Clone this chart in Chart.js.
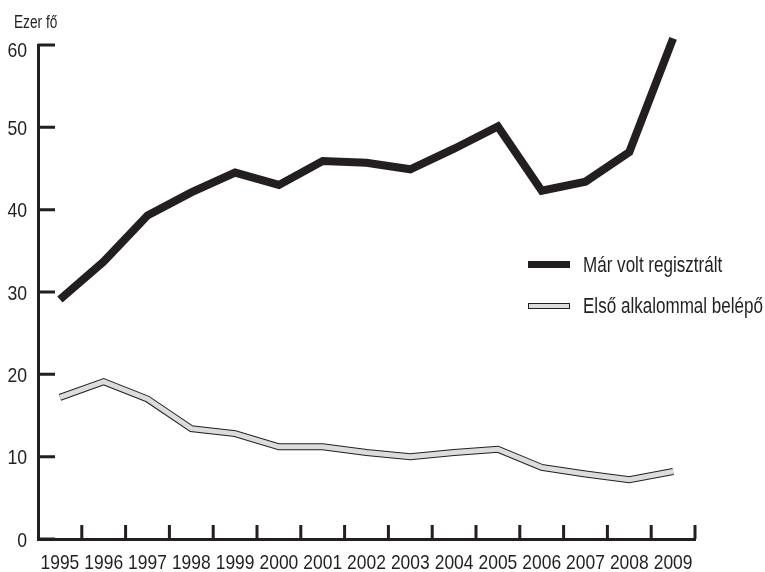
<!DOCTYPE html>
<html>
<head>
<meta charset="utf-8">
<script src="https://cdn.jsdelivr.net/npm/chart.js@4/dist/chart.umd.min.js"></script>
<style>
  body { margin: 0; background: #fff; }
  #wrap { width: 765px; height: 572px; position: relative; }
</style>
</head>
<body>
<div id="wrap"><canvas id="chart"></canvas></div>
<script>
/* ── Data ── */
const years = ['1995', '1996', '1997', '1998', '1999', '2000', '2001', '2002', '2003', '2004', '2005', '2006', '2007', '2008', '2009'];
const marVolt = [29.1, 33.7, 39.3, 42.1, 44.5, 43.0, 45.9, 45.7, 44.9, 47.4, 50.1, 42.3, 43.4, 47.0, 60.8];
const elsoAlk = [17.2, 19.1, 17.0, 13.4, 12.8, 11.2, 11.2, 10.5, 10.0, 10.5, 10.9, 8.7, 7.9, 7.2, 8.2];
const yTicks = [0, 10, 20, 30, 40, 50, 60];
const seriesNames = ['Már volt regisztrált', 'Első alkalommal belépő'];
const unitLabel = 'Ezer fő';

const ink = '#231f20';
const pale = '#dcdcdc';
const FONT = '"Liberation Sans", Arial, sans-serif';

// no narrow font installed, so squeeze Liberation Sans horizontally
function narrowText(ctx, text, x, y, size, squeeze, align) {
  ctx.save();
  ctx.translate(x, y);
  ctx.scale(squeeze, 1);
  ctx.font = size + 'px ' + FONT;
  ctx.textAlign = align;
  ctx.textBaseline = 'alphabetic';
  ctx.fillText(text, 0, 0);
  ctx.restore();
}

/* ── Inward tick marks, labels, unit label and legend ── */
const decorations = {
  id: 'decorations',
  afterDraw(chart) {
    const { ctx, chartArea, scales: { x, y } } = chart;
    ctx.save();
    ctx.strokeStyle = ink;
    ctx.fillStyle = ink;
    ctx.lineWidth = 3;
    ctx.beginPath();
    y.ticks.forEach(t => {
      const py = y.getPixelForValue(t.value);
      ctx.moveTo(chartArea.left, py);
      ctx.lineTo(chartArea.left + 17, py);
    });
    for (let i = 1; i <= years.length; i++) {
      const px = x.getPixelForValue(i - 0.5);
      ctx.moveTo(px, chartArea.bottom);
      ctx.lineTo(px, chartArea.bottom - 14);
    }
    ctx.stroke();

    // tick labels
    y.ticks.forEach(t => {
      const py = Math.max(y.getPixelForValue(t.value), 49);
      narrowText(ctx, String(t.value), chartArea.left - 11, py + 7.5, 21, 0.84, 'right');
    });
    years.forEach((label, i) => {
      narrowText(ctx, label, x.getPixelForValue(i), 569, 21, 0.83, 'center');
    });

    narrowText(ctx, unitLabel, 14, 28, 18, 0.76, 'left');

    // legend
    ctx.fillRect(528, 261, 42, 7);
    ctx.fillStyle = pale;
    ctx.fillRect(528.5, 303.5, 41, 5);
    ctx.lineWidth = 1;
    ctx.strokeRect(528.5, 303.5, 41, 5);
    ctx.fillStyle = ink;
    narrowText(ctx, seriesNames[0], 583, 271.5, 22, 0.775, 'left');
    narrowText(ctx, seriesNames[1], 583, 313, 22, 0.775, 'left');
    ctx.restore();
  }
};

const ctx = document.getElementById('chart').getContext('2d');
new Chart(ctx, {
  type: 'line',
  data: {
    labels: years,
    datasets: [
      { label: seriesNames[0], data: marVolt, borderColor: ink, borderWidth: 8, order: 1 },
      { label: seriesNames[1], data: elsoAlk, borderColor: pale, borderWidth: 5, order: 2 },
      { label: 'outline', data: elsoAlk, borderColor: ink, borderWidth: 7, order: 3 }
    ]
  },
  options: {
    responsive: true,
    maintainAspectRatio: false,
    animation: false,
    layout: { padding: { top: 45, right: 70, left: 0, bottom: 0 } },
    elements: {
      line: { tension: 0, fill: false, borderJoinStyle: 'miter', borderCapStyle: 'butt' },
      point: { radius: 0, hoverRadius: 0 }
    },
    datasets: { line: { clip: false } },
    scales: {
      x: {
        offset: true,
        grid: { display: false, drawTicks: false },
        border: { display: true, color: ink, width: 3 },
        ticks: { display: false, autoSkip: false },
        afterFit(s) { s.height = 33; }
      },
      y: {
        min: 0, max: 60,
        grid: { display: false, drawTicks: false },
        border: { display: true, color: ink, width: 3 },
        ticks: { display: false },
        afterBuildTicks(s) { s.ticks = yTicks.map(v => ({ value: v })); },
        afterFit(s) { s.width = 38; }
      }
    },
    plugins: { legend: { display: false }, tooltip: { enabled: false } }
  },
  plugins: [decorations]
});
</script>
</body>
</html>
